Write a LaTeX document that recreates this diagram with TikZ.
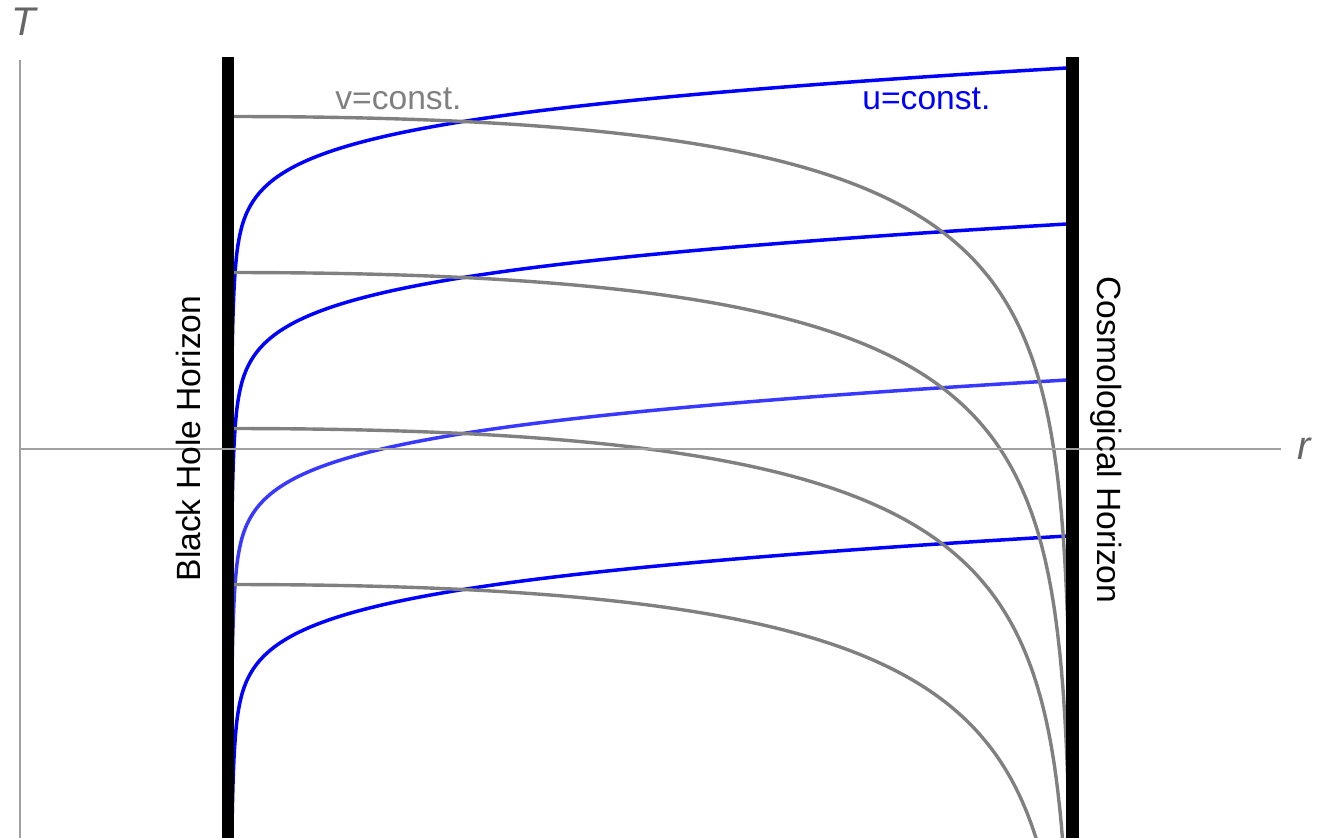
\documentclass[tikz,border=0pt]{standalone}
\usepackage{fontspec}
\setmainfont{Liberation Sans}
\definecolor{curvegray}{RGB}{128,128,128}
\definecolor{axisgray}{RGB}{160,160,160}
\definecolor{labelgray}{RGB}{102,102,102}
\definecolor{ublue}{RGB}{0,0,255}
\definecolor{ubluelight}{RGB}{56,56,255}
\begin{document}
\begin{tikzpicture}[x=0.5pt,y=-0.5pt,
  ucurve/.style={line width=1.75pt},
  vcurve/.style={draw=curvegray, line width=1.7pt},
  horizonband/.style={fill=black},
  axisline/.style={draw=axisgray, line width=0.6pt},
  lbl/.style={inner sep=0pt, font=\fontsize{16.8}{20}\selectfont},
  axlbl/.style={inner sep=0pt, font=\fontsize{20}{24}\selectfont\itshape, text=labelgray}]
\useasboundingbox (0,0) rectangle (1317,838);
\begin{scope}
\clip (0,0) rectangle (1317,838);
% u = const. curves
\foreach \k/\c in {0/ublue,1/ublue,2/ubluelight,3/ublue} {
  \draw[ucurve, draw=\c] plot[variable=\t, domain=0:5.6, samples=240]
    ({228+839*exp(-\t)},
     {68+156*\k+32.7*\t+16.5*(1-exp(-\t))+(0.047676*exp(\t))^2});
}
% v = const. curves
\foreach \k in {0,1,2,3} {
  \draw[vcurve] plot[variable=\t, domain=-0.012:7.6, samples=240]
    ({1072-839*exp(-\t)},
     {116.5+156*\k+123*(\t-(1-exp(-0.86*\t))/0.86)});
}
% horizons
\fill[horizonband] (222,57) rectangle (234,838);
\fill[horizonband] (1066,57) rectangle (1079,838);
\end{scope}
% axes
\draw[axisline] (20,60) -- (20,838);
\draw[axisline] (20,449) -- (1281,449);
% labels
\node[axlbl, anchor=base west] (tlab) at (11,36) {T};
\node[axlbl, anchor=base west] (rlab) at (1297,460) {r};
\node[lbl, text=curvegray, anchor=base west] (vlab) at (335,110) {v=const.};
\node[lbl, text=ublue, anchor=base west] (ulab) at (862,110) {u=const.};
\node[lbl, rotate=90, anchor=base] (bh) at (200,438.5) {Black Hole Horizon};
\node[lbl, rotate=-90, anchor=base] (ch) at (1097,440) {Cosmological Horizon};
\end{tikzpicture}
\end{document}
